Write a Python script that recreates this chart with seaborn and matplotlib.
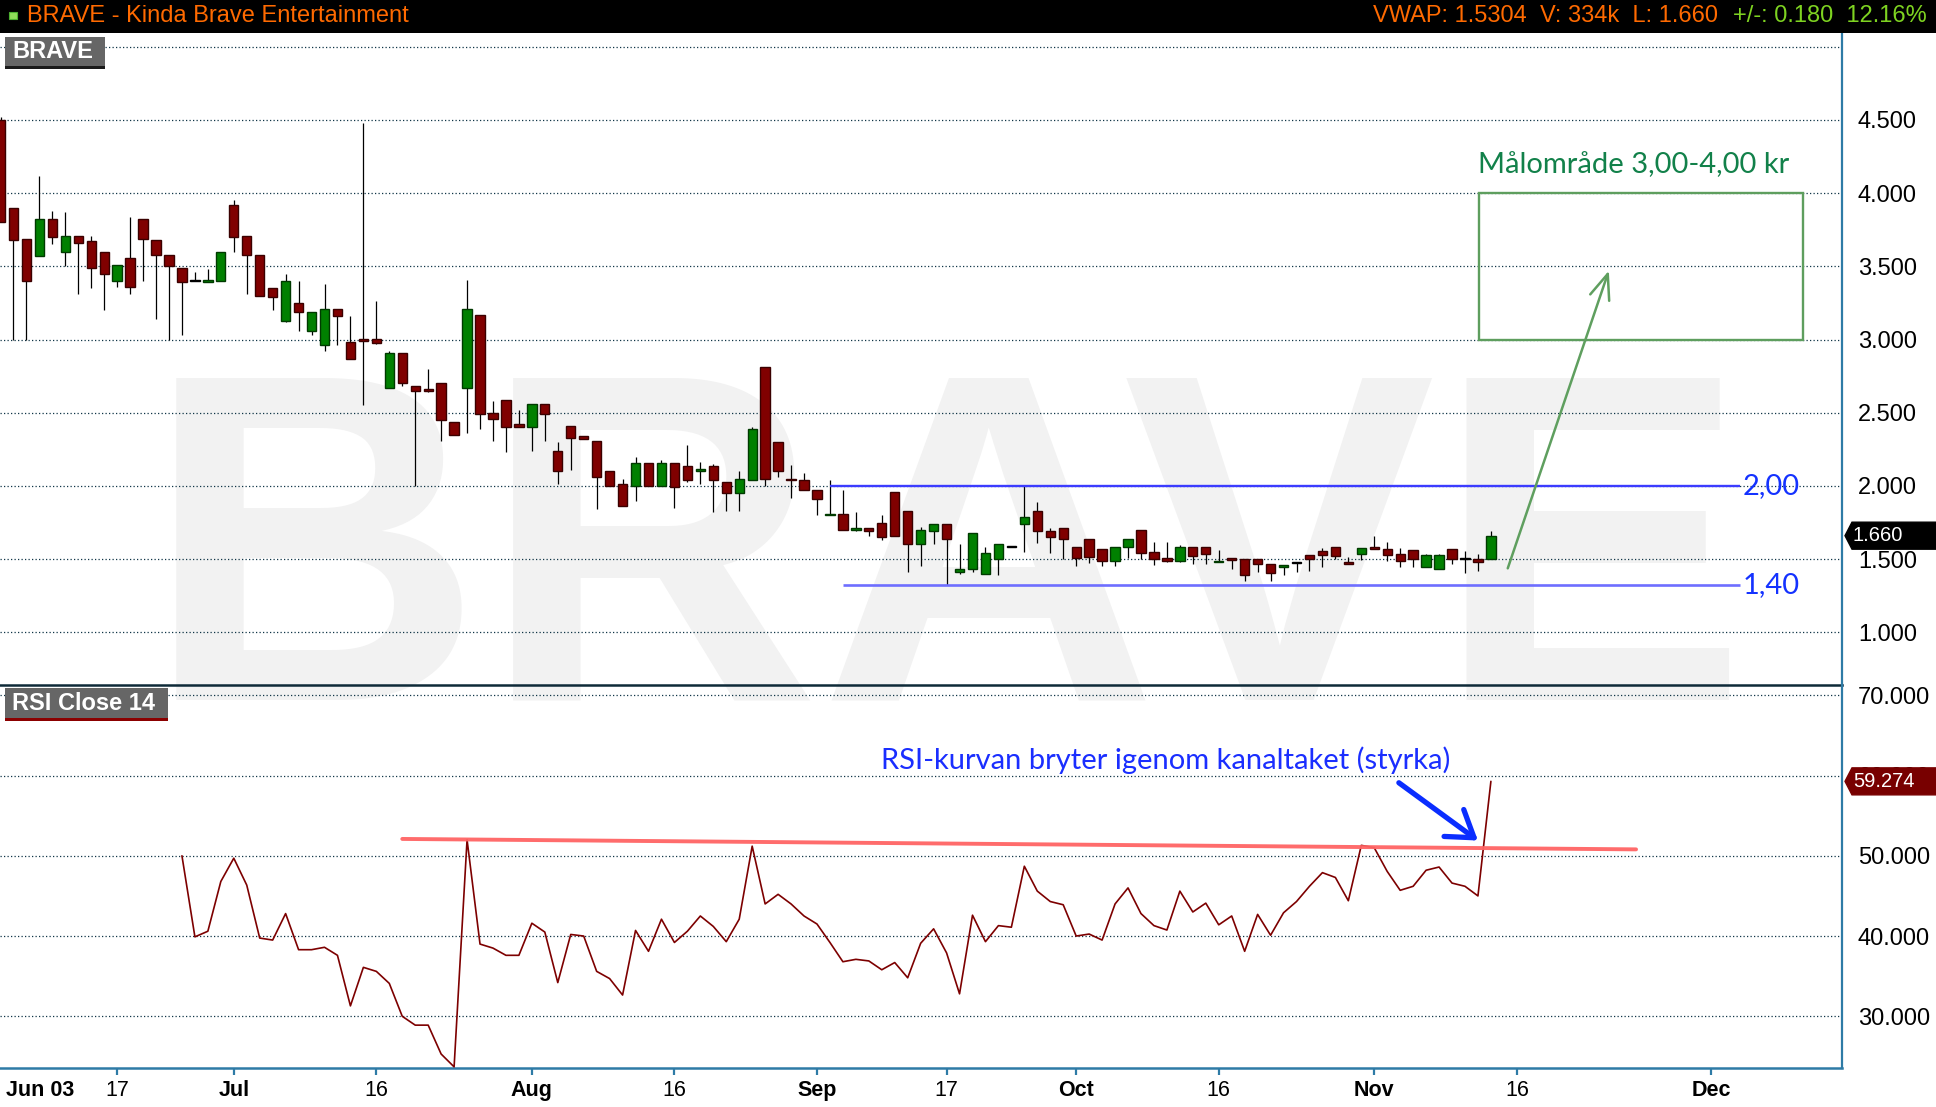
import numpy as np
import pandas as pd
import matplotlib
matplotlib.use("Agg")
import matplotlib.pyplot as plt
import matplotlib.transforms as mtransforms
from matplotlib.patches import Rectangle, Polygon
import seaborn as sns

# ---------------- data ----------------
opens = [4.50, 3.90, 3.69, 3.57, 3.82, 3.60, 3.71, 3.67, 3.60, 3.40,
         3.56, 3.82, 3.68, 3.58, 3.49, 3.40, 3.39, 3.40, 3.92, 3.71,
         3.58, 3.35, 3.13, 3.25, 3.06, 2.96, 3.21, 2.98, 3.005, 3.007,
         2.67, 2.91, 2.68, 2.66, 2.70, 2.44, 2.67, 3.17, 2.50, 2.59,
         2.42, 2.40, 2.56, 2.24, 2.41, 2.34, 2.31, 2.10, 2.01, 2.00,
         2.155, 2.00, 2.155, 2.135, 2.10, 2.135, 2.03, 1.95, 2.04, 2.81,
         2.30, 2.043, 2.04, 1.975, 1.80, 1.81, 1.70, 1.715, 1.75, 1.96,
         1.83, 1.60, 1.69, 1.74, 1.41, 1.435, 1.40, 1.50, 1.58, 1.74,
         1.83, 1.695, 1.715, 1.585, 1.64, 1.57, 1.49, 1.58, 1.70, 1.55,
         1.51, 1.484, 1.586, 1.586, 1.477, 1.505, 1.498, 1.498, 1.468, 1.443,
         1.473, 1.525, 1.552, 1.584, 1.48, 1.538, 1.586, 1.572, 1.532, 1.559,
         1.448, 1.434, 1.566, 1.498, 1.498, 1.498]
highs = [4.52, 3.90, 3.69, 4.12, 3.88, 3.87, 3.71, 3.71, 3.60, 3.51,
         3.84, 3.82, 3.68, 3.58, 3.49, 3.46, 3.48, 3.60, 3.95, 3.71,
         3.58, 3.35, 3.45, 3.40, 3.19, 3.38, 3.21, 3.16, 4.48, 3.26,
         2.92, 2.91, 2.68, 2.80, 2.70, 2.44, 3.41, 3.17, 2.58, 2.59,
         2.52, 2.56, 2.56, 2.30, 2.41, 2.34, 2.31, 2.10, 2.05, 2.20,
         2.155, 2.18, 2.155, 2.28, 2.16, 2.15, 2.03, 2.105, 2.40, 2.81,
         2.30, 2.14, 2.09, 1.975, 2.04, 1.97, 1.82, 1.715, 1.80, 1.96,
         1.83, 1.72, 1.74, 1.74, 1.60, 1.675, 1.58, 1.60, 1.58, 2.00,
         1.89, 1.71, 1.715, 1.585, 1.64, 1.57, 1.585, 1.635, 1.70, 1.62,
         1.62, 1.595, 1.586, 1.586, 1.561, 1.505, 1.498, 1.498, 1.468, 1.457,
         1.473, 1.525, 1.579, 1.584, 1.511, 1.577, 1.656, 1.615, 1.579, 1.559,
         1.538, 1.538, 1.566, 1.554, 1.538, 1.69]
lows = [3.80, 3.00, 3.00, 3.57, 3.65, 3.50, 3.31, 3.35, 3.20, 3.36,
        3.31, 3.40, 3.14, 3.00, 3.03, 3.40, 3.39, 3.40, 3.60, 3.31,
        3.30, 3.20, 3.12, 3.06, 3.03, 2.92, 2.96, 2.87, 2.555, 2.97,
        2.67, 2.68, 2.00, 2.64, 2.31, 2.35, 2.36, 2.39, 2.31, 2.23,
        2.40, 2.24, 2.31, 2.01, 2.11, 2.32, 1.84, 2.00, 1.86, 1.90,
        2.00, 2.00, 1.85, 2.03, 2.01, 1.82, 1.83, 1.83, 2.04, 2.00,
        2.06, 1.92, 1.97, 1.80, 1.80, 1.70, 1.69, 1.66, 1.63, 1.66,
        1.41, 1.45, 1.60, 1.32, 1.40, 1.41, 1.40, 1.39, 1.58, 1.55,
        1.61, 1.54, 1.50, 1.45, 1.475, 1.45, 1.45, 1.51, 1.50, 1.46,
        1.48, 1.477, 1.468, 1.464, 1.477, 1.43, 1.353, 1.41, 1.353, 1.394,
        1.41, 1.416, 1.443, 1.498, 1.464, 1.493, 1.566, 1.484, 1.448, 1.448,
        1.448, 1.434, 1.464, 1.403, 1.416, 1.498]
closes = [3.80, 3.68, 3.40, 3.82, 3.70, 3.71, 3.66, 3.49, 3.45, 3.51,
          3.36, 3.69, 3.58, 3.50, 3.39, 3.40, 3.41, 3.60, 3.70, 3.58,
          3.30, 3.29, 3.40, 3.19, 3.19, 3.21, 3.16, 2.87, 2.99, 2.973,
          2.91, 2.70, 2.65, 2.645, 2.45, 2.35, 3.21, 2.49, 2.46, 2.40,
          2.40, 2.56, 2.49, 2.10, 2.33, 2.32, 2.06, 2.00, 1.86, 2.155,
          2.00, 2.155, 1.99, 2.04, 2.115, 2.04, 1.95, 2.045, 2.39, 2.05,
          2.10, 2.041, 1.97, 1.91, 1.81, 1.70, 1.715, 1.695, 1.65, 1.66,
          1.60, 1.70, 1.74, 1.635, 1.435, 1.675, 1.54, 1.60, 1.58, 1.79,
          1.69, 1.65, 1.635, 1.51, 1.515, 1.49, 1.585, 1.635, 1.54, 1.50,
          1.486, 1.584, 1.518, 1.538, 1.489, 1.491, 1.389, 1.464, 1.403, 1.457,
          1.473, 1.502, 1.525, 1.518, 1.464, 1.577, 1.566, 1.525, 1.484, 1.498,
          1.525, 1.529, 1.498, 1.498, 1.477, 1.66]

rsi_start = 14
rsi_values = [50.0, 39.9, 40.6, 46.8, 49.7, 46.35, 39.75, 39.5, 42.8, 38.3,
              38.3, 38.6, 37.6, 31.3, 36.1, 35.6, 34.1, 30.0, 28.9, 28.9,
              25.3, 23.7, 52.0, 39.0, 38.5, 37.6, 37.6, 41.6, 40.5, 34.2,
              40.2, 40.0, 35.6, 34.7, 32.65, 40.7, 38.1, 42.1, 39.2, 40.6,
              42.5, 41.2, 39.3, 42.1, 51.2, 44.0, 45.2, 44.0, 42.5, 41.5,
              39.2, 36.8, 37.1, 36.9, 35.8, 36.7, 34.8, 39.1, 40.9, 37.9,
              32.8, 42.6, 39.3, 41.3, 41.1, 48.7, 45.6, 44.3, 43.9, 40.0,
              40.25, 39.5, 44.0, 46.0, 42.8, 41.3, 40.75, 45.6, 43.0, 44.1,
              41.4, 42.5, 38.1, 42.7, 40.1, 42.9, 44.3, 46.2, 47.9, 47.3,
              44.4, 51.3, 51.0, 48.05, 45.7, 46.2, 48.2, 48.6, 46.6, 46.2,
              45.0, 59.274]

date_tick_pos = [9, 18, 29, 41, 52, 63, 73, 83, 94, 106, 117, 132]
date_tick_labels = ["17", "Jul", "16", "Aug", "16", "Sep", "17", "Oct", "16", "Nov", "16", "Dec"]
first_date_label = "Jun 03"
price_ticks = [1.0, 1.5, 2.0, 2.5, 3.0, 3.5, 4.0, 4.5]
price_grid = [1.0, 1.5, 2.0, 2.5, 3.0, 3.5, 4.0, 4.5, 5.0]
rsi_ticks = [30, 40, 50, 60, 70]

resistance, resistance_label, resistance_start = 2.0, "2,00", 64
support, support_label, support_start = 1.323, "1,40", 65
level_end = 134.2
target_low, target_high = 3.0, 4.0
target_x0, target_x1 = 114.1, 139.1
target_text = "Målområde 3,00-4,00 kr"
target_arrow_from, target_arrow_to = (116.3, 1.437), (124.1, 3.47)
rsi_ceiling = ([31.0, 126.2], [52.1, 50.8])
rsi_text = "RSI-kurvan bryter igenom kanaltaket (styrka)"
rsi_text_pos = (89.9, 61.9)
rsi_arrow_from, rsi_arrow_to = (107.9, 59.1), (114.0, 51.9)

header_left = "BRAVE - Kinda Brave Entertainment"
header_orange = "VWAP: 1.5304  V: 334k  L: 1.660"
header_green = "+/-: 0.180  12.16%"

# ---------------- figure ----------------
W, H = 1936, 1107
sns.set_theme(style="white")
plt.rcParams["font.family"] = ["Liberation Sans", "DejaVu Sans"]
plt.rcParams["lines.scale_dashes"] = True

fig = plt.figure(figsize=(W / 100, H / 100), dpi=100, facecolor="white")

def fy(py):
    return 1 - py / H

AX_RIGHT = 1842
ax = fig.add_axes([0, fy(685), AX_RIGHT / W, (685 - 33) / H])
ax2 = fig.add_axes([0, fy(1068), AX_RIGHT / W, (1068 - 685) / H])
for a in (ax, ax2):
    a.set_facecolor("none")
    a.set_xlim(-0.5 / 12.96, (AX_RIGHT - 0.5) / 12.96)

ax.set_ylim(0.640, 5.094)
ax2.set_ylim(23.56, 71.28)

grid_kw = dict(color="#0f3446", lw=0.9, ls=(0, (1.0, 1.8)), zorder=1)
for v in price_grid:
    ax.axhline(v, **grid_kw)
for v in rsi_ticks:
    ax2.axhline(v, **grid_kw)

# ---------------- candles ----------------
df = pd.DataFrame({"open": opens, "high": highs, "low": lows, "close": closes})
df["x"] = np.arange(len(df))
up = df["close"] > df["open"]
doji = df["close"] == df["open"]
fill = np.where(doji, "black", np.where(up, "#008000", "#800000"))
edge = np.where(doji, "black", np.where(up, "#003a00", "#3a0000"))
body_bottom = np.minimum(df["open"], df["close"])
body_h = np.maximum((df["close"] - df["open"]).abs(), 0.009)

ax.vlines(df["x"], df["low"], df["high"], color="black", lw=0.9, zorder=2)
ax.bar(df["x"], body_h, bottom=body_bottom, width=0.72, color=fill,
       edgecolor=edge, linewidth=1.0, zorder=3)

# levels & target
ax.hlines(resistance, resistance_start, level_end, colors="#3c3cff", lw=1.7, zorder=4)
ax.hlines(support, support_start, level_end, colors="#6e6eff", lw=1.9, zorder=4)
ann_font = ["Lato", "DejaVu Sans"]
ax.text(level_end + 0.2, resistance, resistance_label, color="#1432ff", fontsize=21,
        va="center", ha="left", family=ann_font, zorder=5)
ax.text(level_end + 0.2, support, support_label, color="#1432ff", fontsize=21,
        va="center", ha="left", family=ann_font, zorder=5)
ax.add_patch(Rectangle((target_x0, target_low), target_x1 - target_x0,
                       target_high - target_low, fill=False, ec="#5e9e5e", lw=1.7, zorder=4))
ax.text(target_x0 - 0.1, target_high + 0.195, target_text, color="#12814a", fontsize=21,
        va="center", ha="left", family=ann_font, zorder=5)
ax.annotate("", xy=target_arrow_to, xytext=target_arrow_from,
            arrowprops=dict(arrowstyle="->,head_length=1.5,head_width=0.6",
                            color="#5f9f5f", lw=1.8, shrinkA=0, shrinkB=0), zorder=5)

# ---------------- RSI ----------------
rsi_df = pd.DataFrame({"x": np.arange(rsi_start, rsi_start + len(rsi_values)),
                       "rsi": rsi_values})
sns.lineplot(data=rsi_df, x="x", y="rsi", ax=ax2, color="#7d0000", lw=1.2, zorder=3)
ax2.plot(rsi_ceiling[0], rsi_ceiling[1], color="#ff6464", lw=2.8,
         solid_capstyle="round", alpha=0.95, zorder=4)
ax2.text(rsi_text_pos[0], rsi_text_pos[1], rsi_text, color="#1a2eff", fontsize=21,
         ha="center", va="center", family=ann_font, zorder=5)
ax2.annotate("", xy=rsi_arrow_to, xytext=rsi_arrow_from,
             arrowprops=dict(arrowstyle="->,head_length=1.5,head_width=1.0",
                             color="#0a2dff", lw=3.8, shrinkA=0, shrinkB=0), zorder=5)

# ---------------- axes styling ----------------
axis_blue = "#2e7ba6"
for a in (ax, ax2):
    for s in a.spines.values():
        s.set_visible(False)
    a.spines["right"].set_visible(True)
    a.spines["right"].set_color(axis_blue)
    a.spines["right"].set_linewidth(1.6)
    a.set_xlabel("")
    a.set_ylabel("")
    a.yaxis.tick_right()
    a.grid(False)
ax.spines["bottom"].set_visible(True)
ax.spines["bottom"].set_color("#0e2a38")
ax.spines["bottom"].set_linewidth(1.8)
ax2.spines["bottom"].set_visible(True)
ax2.spines["bottom"].set_color(axis_blue)
ax2.spines["bottom"].set_linewidth(1.8)

ax.set_xticks([])
ax.set_yticks(price_ticks)
ax.set_yticklabels([f"{v:.3f}" for v in price_ticks])
ax.tick_params(axis="y", length=0, pad=11.5, labelsize=17, labelcolor="black")

ax2.set_yticks(rsi_ticks)
ax2.set_yticklabels([f"{v:.3f}" for v in rsi_ticks])
ax2.tick_params(axis="y", length=0, pad=11.5, labelsize=17, labelcolor="black")
ax2.set_xticks(date_tick_pos)
ax2.set_xticklabels(date_tick_labels)
ax2.tick_params(axis="x", direction="out", length=5, width=1.6, color=axis_blue,
                pad=3.6, labelsize=15.5, labelcolor="black", bottom=True)
for lbl in ax2.get_xticklabels():
    if not lbl.get_text().isdigit():
        lbl.set_fontweight("bold")
ax2.annotate(first_date_label, xy=(0.45, 0),
             xycoords=mtransforms.blended_transform_factory(ax2.transData, ax2.transAxes),
             xytext=(0, -8.6), textcoords="offset points", ha="left", va="top",
             fontsize=15.5, fontweight="bold", color="black", annotation_clip=False)

# ---------------- watermark ----------------
fig.text(145 / W, fy(700), "BRAVE", fontsize=337, fontweight="bold", color="#f2f2f2",
         ha="left", va="baseline", zorder=-1)

# ---------------- header ----------------
fig.add_artist(Rectangle((0, fy(33)), 1, 33 / H, transform=fig.transFigure,
                         fc="black", ec="none", zorder=5))
fig.add_artist(Rectangle((9 / W, fy(19)), 8 / W, 7 / H, transform=fig.transFigure,
                         fc="#8fdc5a", ec="#4caf30", lw=0.8, zorder=6))
fig.text(27 / W, fy(16.5), header_left, color="#ff6a00", fontsize=17,
         va="center", ha="left", zorder=7)
fig.text(1718 / W, fy(16.5), header_orange, color="#ff6a00", fontsize=17,
         va="center", ha="right", zorder=7)
fig.text(1927 / W, fy(16.5), header_green, color="#7ed321", fontsize=17,
         va="center", ha="right", zorder=7)

# ---------------- panel label boxes ----------------
def panel_label(x0, x1, y0, y1, text, underline):
    fig.add_artist(Rectangle((x0 / W, fy(y1)), (x1 - x0) / W, (y1 - y0) / H,
                             transform=fig.transFigure, fc="#666666", ec="none", zorder=6))
    fig.add_artist(Rectangle((x0 / W, fy(y1 + 3)), (x1 - x0) / W, 3 / H,
                             transform=fig.transFigure, fc=underline, ec="none", zorder=6))
    fig.text((x0 + 7.5) / W, fy((y0 + y1) / 2 + 0.5), text, color="white", fontsize=17,
             fontweight="bold", va="center", ha="left", zorder=7)

panel_label(4.5, 105, 37, 66, "BRAVE", "#1a1a1a")
panel_label(5, 168, 688, 718, "RSI Close 14", "#8b0000")

# ---------------- last value boxes ----------------
ident = mtransforms.IdentityTransform()

def value_box(axis, val, text, fc):
    px_right = axis.transAxes.transform((1, 0))[0]
    py = axis.transData.transform((0, val))[1]
    hh = 13.5
    verts = [(px_right + 3, py), (px_right + 10, py + hh), (W, py + hh),
             (W, py - hh), (px_right + 10, py - hh)]
    fig.add_artist(Polygon(verts, closed=True, transform=ident, fc=fc, ec=fc, zorder=8))
    fig.text(px_right + 11, py, text, transform=ident, color="white", fontsize=14.5,
             va="center", ha="left", zorder=9)

value_box(ax, closes[-1], f"{closes[-1]:.3f}", "black")
value_box(ax2, rsi_values[-1], f"{rsi_values[-1]:.3f}", "#780000")

fig.savefig("out.png", dpi=100, facecolor="white")
